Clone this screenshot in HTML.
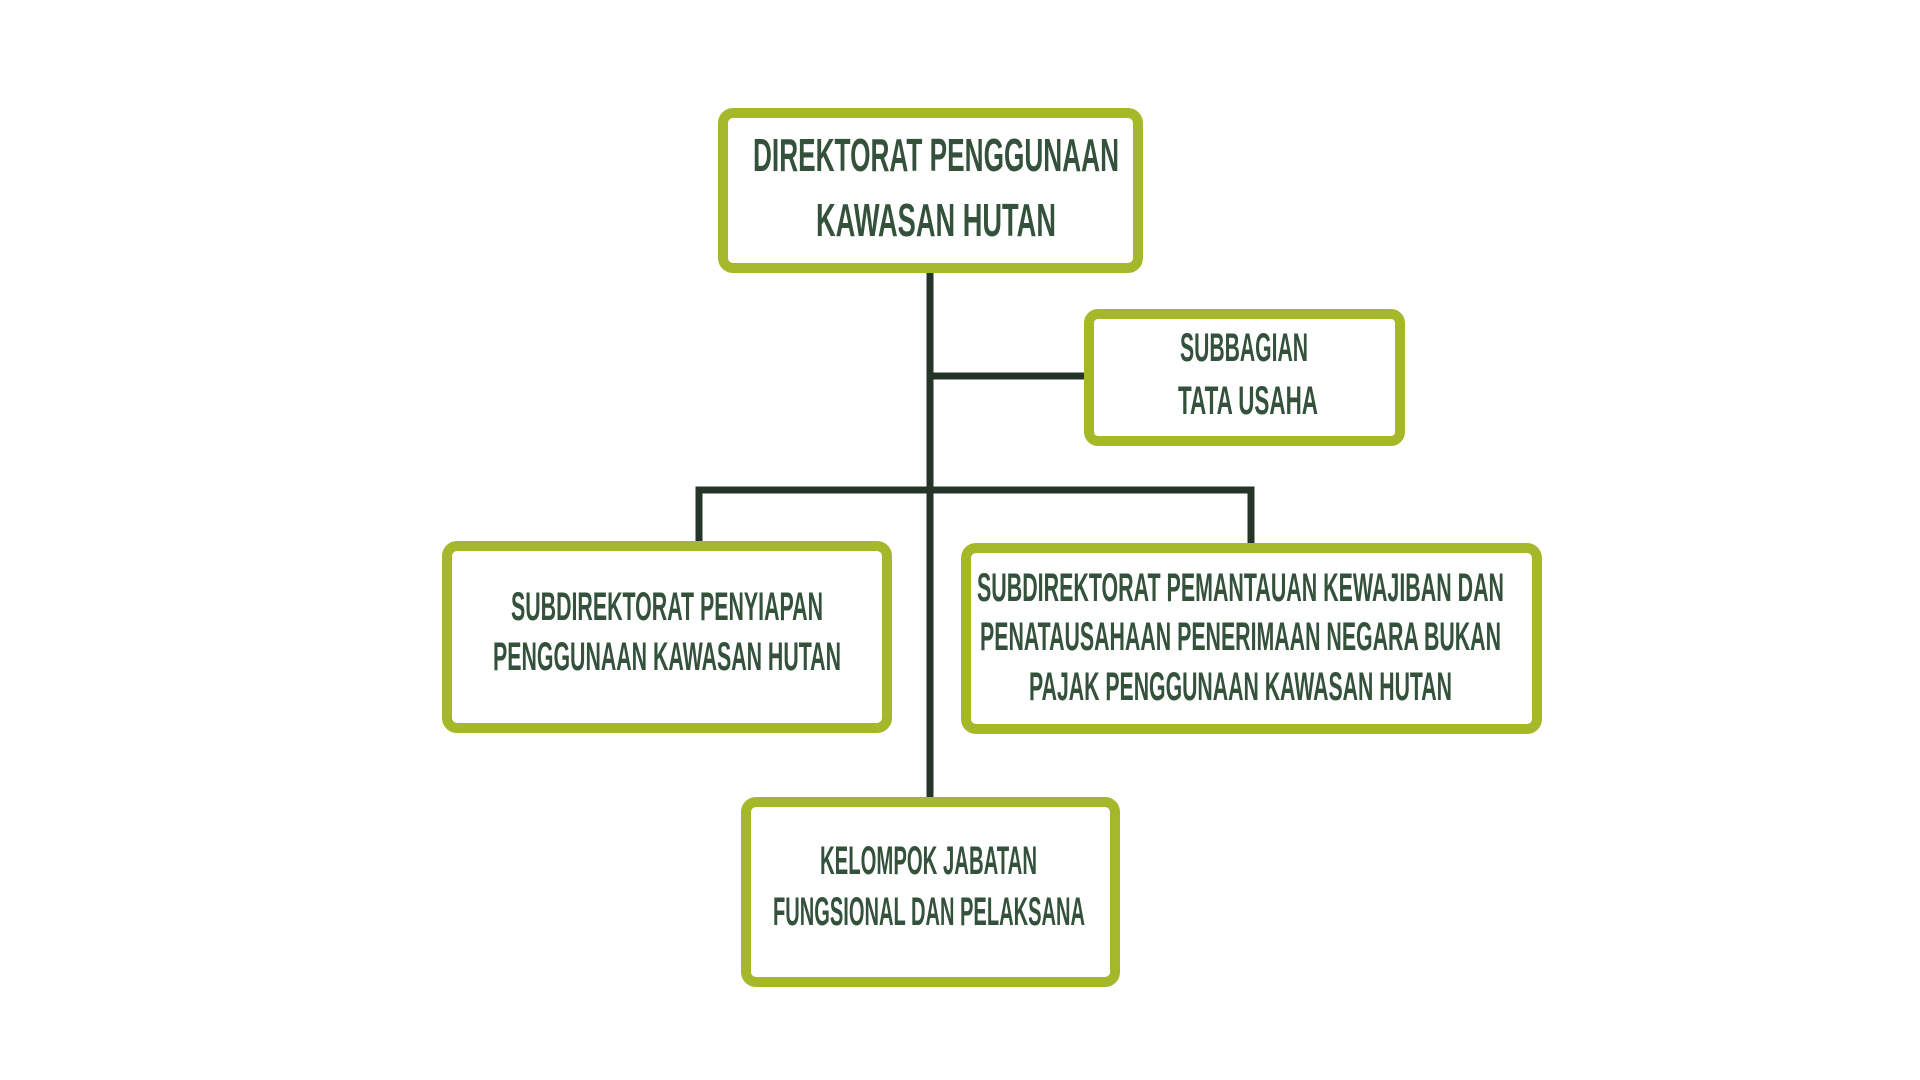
<!DOCTYPE html>
<html><head><meta charset="utf-8"><style>html,body{margin:0;padding:0;background:#fff;width:1920px;height:1080px;overflow:hidden}</style></head>
<body>
<svg width="1920" height="1080" viewBox="0 0 1920 1080" xmlns="http://www.w3.org/2000/svg">
<g stroke="#243428" stroke-width="7" fill="none">
<line x1="930" y1="268" x2="930" y2="800"/>
<line x1="930" y1="376" x2="1088" y2="376"/>
<line x1="699" y1="490" x2="1252" y2="490"/>
<line x1="699" y1="486.5" x2="699" y2="545"/>
<line x1="1251" y1="486.5" x2="1251" y2="545"/>
</g>
<g stroke="#a4b829" stroke-width="10" fill="#fff">
<rect x="723" y="113" width="415" height="155" rx="10"/>
<rect x="1089" y="314" width="311" height="127" rx="9"/>
<rect x="447" y="546" width="440" height="182" rx="10"/>
<rect x="966" y="548" width="571" height="181" rx="10"/>
<rect x="746" y="802" width="369" height="180" rx="10"/>
</g>
<g fill="#33513b" font-family="'Liberation Sans Narrow','Liberation Sans',sans-serif" font-weight="bold">
<text x="753" y="171" font-size="46" textLength="366" lengthAdjust="spacingAndGlyphs">DIREKTORAT PENGGUNAAN</text>
<text x="816" y="236" font-size="46" textLength="240" lengthAdjust="spacingAndGlyphs">KAWASAN HUTAN</text>
<text x="1180" y="361" font-size="40" textLength="128" lengthAdjust="spacingAndGlyphs">SUBBAGIAN</text>
<text x="1178" y="414" font-size="40" textLength="140" lengthAdjust="spacingAndGlyphs">TATA USAHA</text>
<text x="511" y="620" font-size="40" textLength="312" lengthAdjust="spacingAndGlyphs">SUBDIREKTORAT PENYIAPAN</text>
<text x="493" y="670" font-size="40" textLength="348" lengthAdjust="spacingAndGlyphs">PENGGUNAAN KAWASAN HUTAN</text>
<text x="977" y="601" font-size="40" textLength="527" lengthAdjust="spacingAndGlyphs">SUBDIREKTORAT PEMANTAUAN KEWAJIBAN DAN</text>
<text x="980" y="650" font-size="40" textLength="521" lengthAdjust="spacingAndGlyphs">PENATAUSAHAAN PENERIMAAN NEGARA BUKAN</text>
<text x="1029" y="700" font-size="40" textLength="423" lengthAdjust="spacingAndGlyphs">PAJAK PENGGUNAAN KAWASAN HUTAN</text>
<text x="820" y="874" font-size="40" textLength="217" lengthAdjust="spacingAndGlyphs">KELOMPOK JABATAN</text>
<text x="773" y="925" font-size="40" textLength="312" lengthAdjust="spacingAndGlyphs">FUNGSIONAL DAN PELAKSANA</text>
</g>
</svg>
</body></html>
